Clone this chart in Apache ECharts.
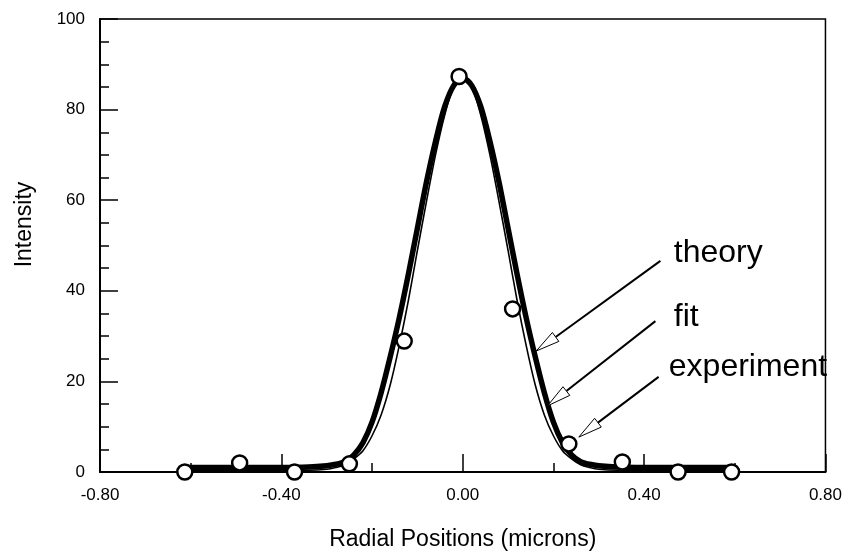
<!DOCTYPE html>
<html>
<head>
<meta charset="utf-8">
<script src="https://cdn.jsdelivr.net/npm/echarts@6/dist/echarts.min.js"></script>
<style>
  html, body { margin: 0; padding: 0; background: #fff; }
  #main { width: 845px; height: 556px; }
</style>
</head>
<body>
<div id="main"></div>
<script>
// sample positions of the two curves (microns)
var curveX = [-0.62, -0.5, -0.4, -0.34, -0.3, -0.28, -0.26, -0.24, -0.22, -0.2, -0.18, -0.16, -0.14, -0.12, -0.1, -0.08, -0.06, -0.04, -0.02, 0,
              0.02, 0.04, 0.06, 0.08, 0.1, 0.12, 0.14, 0.16, 0.18, 0.2, 0.22, 0.24, 0.26, 0.28, 0.3, 0.34, 0.4, 0.5, 0.6];
var theoryY = [1, 1, 1, 1.1, 1.4, 1.7, 2.3, 3.8, 6.5, 11, 17.5, 25.4, 34, 43.6, 53.8, 64, 73, 80.6, 85.3, 87,
               85.3, 80.6, 73, 64, 53.8, 43.6, 34, 25.4, 17.5, 11, 6.5, 3.8, 2.3, 1.7, 1.4, 1.1, 1, 1, 1];
var fitY = [0.4, 0.4, 0.4, 0.4, 0.6, 1.0, 1.6, 2.9, 4.7, 8.0, 12.6, 19.2, 27.9, 37.8, 48.9, 59.7, 70, 78.7, 85, 87,
            85, 78.7, 70, 59.7, 48.9, 37.8, 27.9, 19.2, 12.6, 8.0, 4.7, 2.9, 1.6, 1.0, 0.6, 0.4, 0.4, 0.4, 0.4];
// measured points
var expX = [-0.613, -0.492, -0.371, -0.25, -0.129, -0.008, 0.11, 0.234, 0.352, 0.475, 0.593];
var expY = [0, 2.0, 0, 1.8, 28.9, 87.3, 36.0, 6.2, 2.2, 0, 0];
// annotations: label, label pos, arrow start, arrow tip (data coords)
var noteText = ['theory', 'fit', 'experiment'];
var notePos = [[0.4655, 45.8], [0.4655, 31.8], [0.4545, 20.8]];
var arrowFrom = [[0.436, 46.6], [0.425, 33.3], [0.432, 21.0]];
var arrowTo = [[0.162, 26.7], [0.187, 14.6], [0.256, 7.7]];

var font = '"Liberation Sans", Arial, sans-serif';
var myChart = echarts.init(document.getElementById('main'));

function zip(a, b) {
    var out = [];
    for (var i = 0; i < a.length; i++) out.push([a[i], b[i]]);
    return out;
}

var option = {
    animation: false,
    backgroundColor: '#fff',
    grid: {
        left: 100, right: 18, top: 19, bottom: 81,
        show: true, borderColor: '#000', borderWidth: 1.5
    },
    xAxis: {
        type: 'value',
        min: -0.8, max: 0.8, interval: 0.4,
        name: 'Radial Positions (microns)',
        nameLocation: 'middle',
        nameGap: 56,
        nameTextStyle: { color: '#000', fontSize: 23, fontFamily: font },
        axisLine: { onZero: false, lineStyle: { color: '#000', width: 2 } },
        axisTick: { inside: true, length: 18, lineStyle: { color: '#000', width: 1.5 } },
        minorTick: { show: true, splitNumber: 2, length: 9, lineStyle: { color: '#000', width: 1.5 } },
        splitLine: { show: false },
        axisLabel: {
            color: '#000', fontSize: 17, fontFamily: font, margin: 15,
            formatter: function (v) { return v.toFixed(2); }
        }
    },
    yAxis: {
        type: 'value',
        min: 0, max: 100, interval: 20,
        name: 'Intensity',
        nameLocation: 'middle',
        nameGap: 64,
        nameTextStyle: { color: '#000', fontSize: 23, fontFamily: font, padding: [0, 0, 0, 42] },
        axisLine: { onZero: false, lineStyle: { color: '#000', width: 2 } },
        axisTick: { inside: true, length: 18, lineStyle: { color: '#000', width: 1.5 } },
        minorTick: { show: true, splitNumber: 4, length: 9, lineStyle: { color: '#000', width: 1.5 } },
        splitLine: { show: false },
        axisLabel: { color: '#000', fontSize: 17, fontFamily: font, margin: 15 }
    },
    series: [
        {
            name: 'theory',
            type: 'line',
            data: zip(curveX, theoryY),
            smooth: 0.3,
            showSymbol: false,
            lineStyle: { color: '#000', width: 5.5 },
            z: 2
        },
        {
            name: 'fit',
            type: 'line',
            data: zip(curveX, fitY),
            smooth: 0.3,
            showSymbol: false,
            lineStyle: { color: '#000', width: 1.6 },
            z: 3
        },
        {
            name: 'experiment',
            type: 'scatter',
            data: zip(expX, expY),
            symbol: 'circle',
            symbolSize: 15,
            itemStyle: { color: '#fff', borderColor: '#000', borderWidth: 2.5, opacity: 1 },
            z: 5
        }
    ]
};
myChart.setOption(option);

// arrows and labels placed from data coordinates
var els = [];
for (var i = 0; i < noteText.length; i++) {
    var p0 = myChart.convertToPixel({ gridIndex: 0 }, arrowFrom[i]);
    var p1 = myChart.convertToPixel({ gridIndex: 0 }, arrowTo[i]);
    var dx = p1[0] - p0[0], dy = p1[1] - p0[1];
    var len = Math.sqrt(dx * dx + dy * dy);
    var ux = dx / len, uy = dy / len;
    var headLen = 24, headW = 5.5;
    var bx = p1[0] - ux * headLen, by = p1[1] - uy * headLen;
    els.push({
        type: 'line',
        shape: { x1: p0[0], y1: p0[1], x2: bx, y2: by },
        style: { stroke: '#000', lineWidth: 2 },
        z: 10
    });
    els.push({
        type: 'polygon',
        shape: { points: [[p1[0], p1[1]], [bx - uy * headW, by + ux * headW], [bx + uy * headW, by - ux * headW]] },
        style: { fill: '#fff', stroke: '#000', lineWidth: 1 },
        z: 10
    });
    var tp = myChart.convertToPixel({ gridIndex: 0 }, notePos[i]);
    els.push({
        type: 'text',
        x: tp[0], y: tp[1] - 11,
        style: { text: noteText[i], font: '32px ' + font, fill: '#000', align: 'left', verticalAlign: 'middle' },
        z: 10
    });
}
myChart.setOption({ graphic: els });
</script>
</body>
</html>
